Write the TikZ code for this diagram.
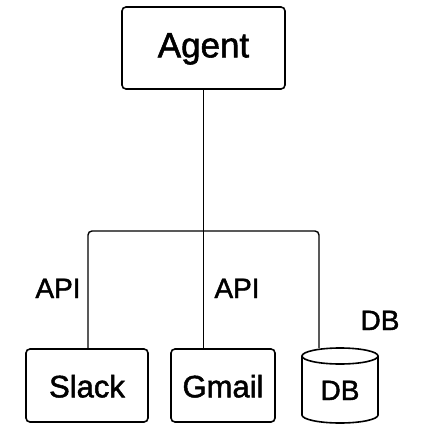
\documentclass[tikz,border=0pt]{standalone}
\usepackage{fontspec}
\newfontfamily\lab{Liberation Sans}[FakeBold=1.6]
\begin{document}
\begin{tikzpicture}[x=1pt,y=-1pt,
  box/.style={draw, line width=1.6pt, rounded corners=4pt, inner sep=0pt,
    font=\lab\fontsize{31}{37}\selectfont, text height=23.6pt, text depth=0pt},
  lbl/.style={inner sep=0pt, font=\lab\fontsize{28}{34}\selectfont, text height=20pt, text depth=0pt},
  conn/.style={line width=1.4pt, rounded corners=4pt}]
\useasboundingbox (0,0) rectangle (426,441);
\node[box, minimum width=163pt, minimum height=82pt, font=\lab\fontsize{35}{42}\selectfont,
  text height=25pt, text depth=6.4pt] (agent) at (203.5,48) {Agent};
\node[box, minimum width=122pt, minimum height=73pt] (slack) at (87,385.5) {Slack};
\node[box, minimum width=104pt, minimum height=73pt] (gmail) at (223,385.5) {Gmail};
\node[lbl, minimum width=76pt, minimum height=59pt] (db) at (340,390) {DB};
% cylinder outline
\draw[line width=1.6pt] (340,356) ellipse [x radius=38pt, y radius=8pt];
\draw[line width=1.6pt] (302,356) -- (302,415) arc[start angle=180, end angle=360, x radius=38pt, y radius=8pt] -- (378,356);
\coordinate (dbtop) at (319,348);
% connectors
\draw[conn] (agent.south) -- (agent.south |- gmail.north);
\draw[conn] (slack.north -| 88,0) -- (88,231) -- (319,231) -- (dbtop);
% labels
\node[lbl] (api1) at (58,288) {API};
\node[lbl] (api2) at (237,288) {API};
\node[lbl] (dblbl) at (380,320) {DB};
\end{tikzpicture}
\end{document}
